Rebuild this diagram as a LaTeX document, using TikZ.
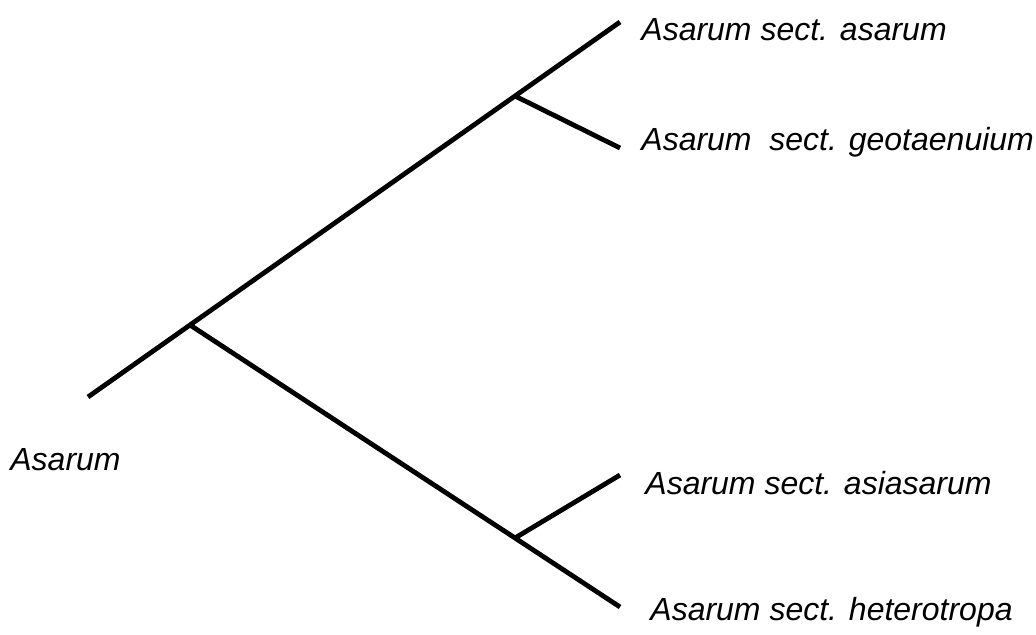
\documentclass[tikz,border=0pt]{standalone}
\usepackage{fontspec}
\setmainfont{Liberation Sans}
\begin{document}
\begin{tikzpicture}[x=0.5pt,y=-0.5pt,
  branch/.style={line width=2.4pt},
  taxon/.style={anchor=west,inner sep=0pt,font=\itshape\fontsize{16}{19}\selectfont}]
\useasboundingbox (0,0) rectangle (1036,635);
\coordinate (root) at (88,397);
\coordinate (n1) at (190,325);
\coordinate (n2) at (515,96);
\coordinate (n3) at (515,538);
\coordinate (tA) at (620,22);
\coordinate (tG) at (620,148);
\coordinate (tS) at (620,475);
\coordinate (tH) at (620,607);
\node[taxon] (asarum) at (641,30) {Asarum sect. asarum};
\node[taxon] (geot) at (641,142) {Asarum\ \ sect. geotaenuium};
\node[taxon] (asia) at (645,483) {Asarum sect. asiasarum};
\node[taxon] (hetero) at (650,612) {Asarum sect. heterotropa};
\node[taxon] (genus) at (10,460) {Asarum};
\draw[branch] (root) -- (n1) -- (n2) -- (tA);
\draw[branch] (n2) -- (tG);
\draw[branch] (n1) -- (n3) -- (tH);
\draw[branch] (n3) -- (tS);
\end{tikzpicture}
\end{document}
